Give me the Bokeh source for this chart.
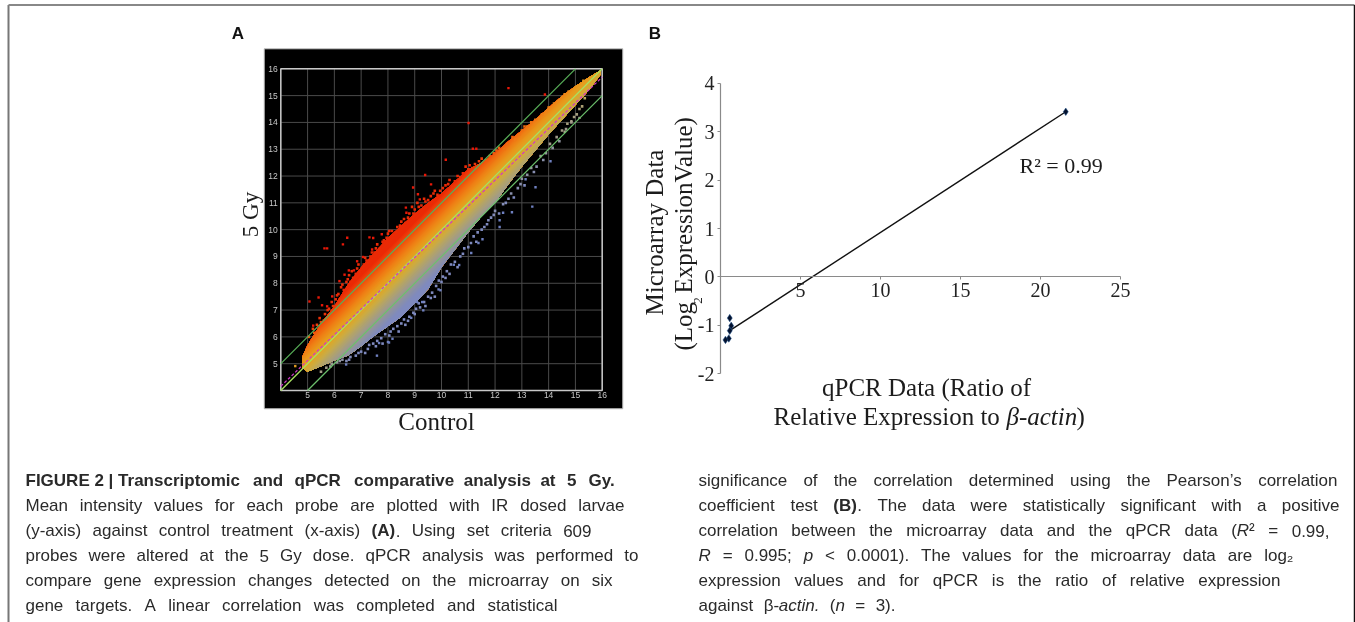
import re
import numpy as np
from bokeh.embed import file_html
from bokeh.resources import INLINE
from bokeh.plotting import figure
from bokeh.models import Range1d, LinearAxis, FixedTicker, ColumnDataSource
from bokeh.core.properties import value

# ---------- Panel A data ----------
a_ticks = [5, 6, 7, 8, 9, 10, 11, 12, 13, 14, 15, 16]
a_grid = [4, 5, 6, 7, 8, 9, 10, 11, 12, 13, 14, 15, 16]
band_x = [4.8, 5.0, 5.5, 6.0, 6.5, 7.0, 7.5, 8.0, 8.5, 9.0, 9.5, 10.0, 10.5, 11.0, 11.5, 12.0, 12.5, 13.0, 13.5, 14.0, 14.5, 15.0, 15.5, 15.95]
band_up = [5.25, 5.7, 6.5, 7.15, 7.95, 8.6, 9.15, 9.7, 10.15, 10.6, 11.0, 11.35, 11.8, 12.25, 12.5, 12.85, 13.3, 13.7, 14.1, 14.55, 14.98, 15.35, 15.68, 15.95]
band_lo = [4.85, 4.7, 4.9, 5.12, 5.3, 5.65, 6.05, 6.4, 6.75, 7.25, 7.78, 8.6, 9.25, 9.9, 10.5, 11.0, 11.7, 12.35, 12.95, 13.55, 14.1, 14.65, 15.2, 15.8]
delta_stops = [-1.45, -1.15, -0.85, -0.55, -0.28, 0.0, 0.25, 0.5, 0.75, 1.0, 1.3]
color_stops = ["#7f8abf", "#8e92a4", "#a09b8a", "#b3a46a", "#cbac44", "#dfa626", "#e89a1c", "#ee8416", "#f06a10", "#f04c0c", "#ea2a06"]
upper_dots_x = [5.05, 5.2, 5.35, 5.5, 5.65, 5.8, 5.9, 6.05, 6.15, 6.25, 6.35, 6.45, 6.55, 6.7, 6.85, 6.95, 7.1, 7.2, 7.35, 7.5, 7.6, 7.7, 7.85, 8.0, 8.15, 8.3, 8.45, 8.6, 8.75, 8.9, 9.0, 9.15, 9.35, 9.5, 9.7, 9.85, 10.05, 10.25, 10.4, 10.6, 10.8, 11.0, 11.05, 11.25, 11.4, 11.7, 11.95, 12.15, 12.35, 12.65, 12.75, 13.0, 13.1, 13.35, 13.5, 13.75, 14.0, 14.2, 14.5, 14.75, 15.05, 15.3,
                5.25, 5.45, 5.6, 5.75, 5.95, 6.1, 6.2, 6.3, 6.5, 6.6, 6.65, 6.8, 6.9, 7.05, 7.15, 7.25, 7.4, 7.55, 7.65, 7.8, 7.95, 8.05, 8.2, 8.35, 8.5, 8.65, 8.8, 8.95, 9.1, 9.25, 9.4, 9.6, 9.75, 9.95, 10.15, 10.3, 10.5, 10.7, 10.9, 11.15, 11.5, 11.8, 12.05, 12.45, 12.9, 13.2, 13.65, 13.9, 14.35, 14.6]
upper_dots_y = [6.0, 6.3, 6.45, 6.55, 6.85, 7.05, 7.3, 7.4, 7.6, 7.85, 7.75, 8.05, 8.3, 8.2, 8.55, 8.4, 8.7, 8.85, 9.0, 9.15, 9.45, 9.3, 9.6, 9.85, 9.95, 9.9, 10.15, 10.4, 10.45, 10.85, 10.75, 10.85, 11.15, 11.1, 11.35, 11.3, 11.55, 11.7, 11.6, 12.0, 12.1, 12.25, 12.4, 12.45, 12.55, 12.6, 12.85, 13.05, 13.0, 13.45, 13.35, 13.7, 13.85, 14.0, 14.1, 14.3, 14.55, 14.7, 14.95, 15.15, 15.35, 15.55,
                6.15, 6.7, 6.6, 7.0, 7.15, 7.55, 7.4, 7.95, 8.15, 8.05, 8.45, 8.35, 8.7, 8.55, 8.95, 8.75, 9.15, 9.3, 9.2, 9.55, 9.7, 9.95, 9.8, 10.1, 10.3, 10.25, 10.6, 10.6, 11.0, 10.9, 11.05, 11.25, 11.45, 11.45, 11.65, 11.85, 11.8, 11.95, 12.35, 12.3, 12.65, 12.75, 12.95, 13.2, 13.55, 13.85, 14.15, 14.4, 14.8, 15.05]
lower_dots_x = [5.9, 6.1, 6.3, 6.45, 6.6, 6.8, 7.0, 7.15, 7.3, 7.45, 7.6, 7.75, 7.9, 8.05, 8.2, 8.35, 8.5, 8.65, 8.8, 8.95, 9.05, 9.2, 9.35, 9.5, 9.65, 9.8, 9.9, 10.05, 10.2, 10.35, 10.5, 10.7, 10.85, 11.0, 11.2, 11.35, 11.5, 11.7, 11.85, 12.0, 12.15, 12.3, 12.5, 12.7, 12.85, 13.0, 13.2, 13.35, 13.55, 13.7, 13.9, 14.05, 14.3, 14.5, 14.7, 14.95, 15.15, 15.35,
                5.5, 5.7, 5.85, 6.2, 6.55, 6.9, 7.25, 7.55, 7.8, 8.1, 8.4, 8.6, 8.75, 9.0, 9.15, 9.4, 9.6, 9.75, 10.0, 10.15, 10.3, 10.6, 10.8, 11.1, 11.3, 11.6, 11.75, 11.95, 12.4, 12.6, 12.95, 13.1, 13.45, 13.8, 14.15, 14.4, 14.65, 14.85, 15.05, 15.25]
lower_dots_y = [5.0, 5.05, 5.15, 5.1, 5.25, 5.3, 5.45, 5.4, 5.7, 5.75, 5.85, 5.95, 6.1, 6.05, 6.3, 6.4, 6.5, 6.45, 6.75, 6.9, 7.05, 7.1, 7.3, 7.5, 7.65, 7.9, 8.1, 8.25, 8.45, 8.7, 8.8, 9.0, 9.3, 9.35, 9.75, 9.9, 10.0, 10.2, 10.45, 10.7, 10.6, 10.95, 11.15, 11.2, 11.55, 11.9, 12.05, 12.3, 12.35, 12.75, 12.85, 13.2, 13.45, 13.7, 13.95, 14.2, 14.5, 14.9,
                4.7, 4.85, 4.9, 5.1, 5.15, 5.4, 5.55, 5.65, 5.75, 6.2, 6.2, 6.65, 6.6, 6.85, 7.25, 7.15, 7.45, 7.5, 8.05, 8.2, 8.35, 8.6, 9.1, 9.5, 9.55, 10.1, 10.35, 10.55, 11.0, 11.35, 11.7, 11.65, 12.15, 12.6, 13.05, 13.3, 13.75, 14.0, 14.3, 14.6]
red_x = [12.50, 13.86, 11.01, 11.17, 11.30, 10.16, 9.39, 8.94, 9.61, 9.12, 9.19, 8.67, 8.69, 6.48, 7.31, 7.45, 5.63, 5.73, 6.32, 5.07, 5.41, 5.54, 5.73, 5.92, 6.19, 6.38, 6.54, 6.85, 6.73, 7.07, 7.41, 7.77, 5.21]
red_y = [15.28, 15.04, 13.98, 13.02, 13.02, 12.61, 12.04, 11.57, 11.69, 11.32, 11.13, 10.82, 10.63, 9.70, 9.71, 9.69, 9.30, 9.30, 9.45, 7.32, 7.47, 7.18, 7.14, 7.51, 8.08, 8.32, 8.48, 8.82, 8.48, 8.98, 9.26, 9.83, 6.42]
blue_x = [13.51, 13.39, 14.07, 12.63, 12.30, 13.14, 7.59, 6.44, 8.0, 8.17, 8.04, 7.67, 9.89, 9.96, 9.32, 9.09, 9.28, 8.87, 10.66, 10.46, 11.11, 11.38, 11.53, 12.17, 12.17]
blue_y = [11.58, 10.86, 12.55, 10.65, 10.63, 11.88, 5.30, 4.97, 5.81, 5.93, 5.79, 5.77, 7.77, 7.74, 6.99, 7.30, 7.30, 6.71, 8.68, 8.69, 9.13, 9.50, 9.64, 10.10, 10.35]
tan_x = [15.15, 4.54, 14.85, 14.6]
tan_y = [14.17, 4.91, 14.05, 13.65]
tan_c = ["#a9a08a", "#e09a20", "#a9a08a", "#a9a08a"]
unity_x = [4, 16]
unity_y = [4, 16]
upper_x = [4, 15]
upper_y = [5, 16]
lower_x = [5, 16]
lower_y = [4, 15]
fit_a_x = [4, 16]
fit_a_y = [4.16, 15.69]

# ---------- Panel B data ----------
qpcr = [21.58, 0.58, 0.67, 0.58, 0.52, 0.31]
micro = [3.41, -0.85, -1.01, -1.11, -1.27, -1.30]
trend_x = [0.62, 21.58]
trend_y = [-1.10, 3.41]
b_xticks = [5, 10, 15, 20, 25]
b_yticks = [-2, -1, 0, 1, 2, 3, 4]

# ---------- Caption ----------
left_lines = [
    (25, 616, "b", ["FIGURE 2 | Transcriptomic", "and", "qPCR", "comparative", "analysis", "at", "5", "Gy."]),
    (25, 624, "n", "Mean intensity values for each probe are plotted with IR dosed larvae".split()),
    (25, 591, "n", "(y-axis) against control treatment (x-axis) {b}(A){n}. Using set criteria 609".split()),
    (25, 638, "n", "probes were altered at the 5 Gy dose. qPCR analysis was performed to".split()),
    (25, 612, "n", "compare gene expression changes detected on the microarray on six".split()),
    (25, 557, "n", "gene targets. A linear correlation was completed and statistical".split()),
]
right_lines = [
    (698, 1337, "n", "significance of the correlation determined using the Pearson\u2019s correlation".split()),
    (698, 1339, "n", "coefficient test {b}(B){n}. The data were statistically significant with a positive".split()),
    (698, 1329, "n", "correlation between the microarray data and the qPCR data ({i}R{n}\u00b2 = 0.99,".split()),
    (698, 1292, "n", "{i}R{n} = 0.995; {i}p{n} < 0.0001). The values for the microarray data are log\u2082".split()),
    (698, 1280, "n", "expression values and for qPCR is the ratio of relative expression".split()),
    (698, 895, "n", "against \u03b2-{i}actin.{n} ({i}n{n} = 3).".split()),
]
line_ys = [479.5, 504.5, 530, 555, 580, 605]

# ---------- Page and scales ----------
W, H = 1355, 622
p = figure(width=W, height=H, output_backend="svg", toolbar_location=None,
           x_range=Range1d(0, W), y_range=Range1d(H, 0),
           x_axis_location=None, y_axis_location=None, min_border=0,
           outline_line_color=None, background_fill_color="white", border_fill_color="white",
           styles={"position": "fixed", "left": "0", "top": "0"})
p.grid.visible = False


def add_scale(name, px0, v0, px1, v1, dim):
    k = (v1 - v0) / (px1 - px0)
    if dim == "x":
        p.extra_x_ranges[name] = Range1d(v0 - px0 * k, v0 + (W - px0) * k)
    else:
        p.extra_y_ranges[name] = Range1d(v0 + (H - px0) * k, v0 - px0 * k)


add_scale("ax", 280.3, 4, 601.7, 16, "x")
add_scale("ay", 390.0, 4, 68.3, 16, "y")
add_scale("bx", 720.0, 0, 1120.0, 25, "x")
add_scale("by", 373.3, -2, 82.7, 4, "y")
A = dict(x_range_name="ax", y_range_name="ay")
B = dict(x_range_name="bx", y_range_name="by")

# page frame
p.line([8, 8], [4.5, 622], line_color="#777777", line_width=2)
p.line([8, 1354], [4.5, 4.5], line_color="#888888", line_width=2)
p.line([1354, 1354], [4.5, 622], line_color="#111111", line_width=1.5)

# ---------- Panel A ----------
p.quad(left=263.7, right=622.3, top=48.3, bottom=408.3, fill_color="black",
       line_color="#c4c4c4", line_width=1)
g_lo = [4] * len(a_grid)
g_hi = [16] * len(a_grid)
p.segment(a_grid, g_lo, a_grid, g_hi, line_color="#4a4a4a", line_width=1, **A)
p.segment(g_lo, a_grid, g_hi, a_grid, line_color="#4a4a4a", line_width=1, **A)
p.quad(left=4, right=16, bottom=4, top=16, fill_color=None, line_color="#c8c8c8", line_width=1.5, **A)

rgb_stops = np.array([[int(c[i:i + 2], 16) for i in (1, 3, 5)] for c in color_stops], dtype=float)


def delta_color(d):
    return "#%02x%02x%02x" % tuple(int(round(np.interp(d, delta_stops, rgb_stops[:, k]))) for k in range(3))


# The band is painted from its top layer down, each layer covering the one before, so no seams show.
grid_x = np.linspace(band_x[0], band_x[-1], 300)
env_up = np.interp(grid_x, band_x, band_up)
env_lo = np.interp(grid_x, band_x, band_lo)
for d in np.arange(1.9, -1.5, -0.05):
    top = np.minimum(env_up, grid_x + d)
    keep = top > env_lo
    if keep.sum() < 2:
        continue
    p.varea(x=grid_x[keep], y1=env_lo[keep], y2=top[keep], fill_color=delta_color(d), **A)


def dot_colors(xs, ys):
    return [delta_color(y - x) for x, y in zip(xs, ys)]


p.scatter(upper_dots_x, upper_dots_y, marker="square", size=2.6, line_color=None,
          fill_color=dot_colors(upper_dots_x, upper_dots_y), **A)
p.scatter(lower_dots_x, lower_dots_y, marker="square", size=2.6, line_color=None,
          fill_color=dot_colors(lower_dots_x, lower_dots_y), **A)
p.scatter(red_x, red_y, marker="square", size=2.4, line_color=None, fill_color="#e81808", **A)
p.scatter(blue_x, blue_y, marker="square", size=2.4, line_color=None, fill_color="#6f80c0", **A)
p.scatter(tan_x, tan_y, marker="square", size=2.4, line_color=None, fill_color=tan_c, **A)

p.line(upper_x, upper_y, line_color="#58b058", line_width=1.2, **A)
p.line(lower_x, lower_y, line_color="#6cc06c", line_width=1.2, **A)
p.line(unity_x, unity_y, line_color="#a8e060", line_width=1.3, **A)
p.line(fit_a_x, fit_a_y, line_color="#d038c8", line_width=1.2, line_dash="3 2", **A)

ax_x = LinearAxis(fixed_location=4, ticker=FixedTicker(ticks=a_ticks), **A)
ax_y = LinearAxis(fixed_location=4, ticker=FixedTicker(ticks=a_ticks), **A)
for ax in (ax_x, ax_y):
    ax.axis_line_color = None
    ax.major_tick_line_color = None
    ax.major_tick_in = 0
    ax.major_tick_out = 0
    ax.minor_tick_line_color = None
    ax.major_label_text_color = "#c8c8c8"
    ax.major_label_text_font = "Liberation Sans"
    ax.major_label_text_font_size = "8.5px"
ax_x.major_label_standoff = 1
ax_y.major_label_standoff = 3
p.add_layout(ax_x, "below")
p.add_layout(ax_y, "left")

# ---------- Panel B ----------
p.line(trend_x, trend_y, line_color="#111111", line_width=1.4, **B)
p.scatter(qpcr, micro, marker="diamond", size=7.5, fill_color="#04122e", line_color="#1a4f8a", line_width=0.5, **B)
bx_axis = LinearAxis(fixed_location=0, ticker=FixedTicker(ticks=b_xticks), bounds=(0, 25), **B)
by_axis = LinearAxis(fixed_location=0, ticker=FixedTicker(ticks=b_yticks), bounds=(-2, 4), **B)
for ax in (bx_axis, by_axis):
    ax.axis_line_color = "#8a8a8a"
    ax.axis_line_width = 1.2
    ax.major_tick_line_color = "#8a8a8a"
    ax.major_tick_in = 0
    ax.major_tick_out = 3
    ax.minor_tick_line_color = None
    ax.major_label_text_color = "#222222"
    ax.major_label_text_font = "Liberation Serif"
    ax.major_label_text_font_size = "20px"
bx_axis.major_label_standoff = 3
by_axis.major_label_standoff = 3
by_axis.major_label_overrides = {-1: "-1", -2: "-2"}
p.add_layout(bx_axis, "below")
p.add_layout(by_axis, "left")


def put(x, y, s, size, font="Liberation Serif", style="normal", align="center", angle=0, color="#1c1c1c"):
    p.text([x], [y], text=[s], text_font=value(font), text_font_size=size, text_font_style=style,
           text_align=align, text_baseline="middle", angle=angle, text_color=color)


ROT = np.pi / 2
put(237.5, 33, "A", "17px", "Liberation Sans", "bold", color="#111111")
put(654.5, 33, "B", "17px", "Liberation Sans", "bold", color="#111111")
put(436, 420.7, "Control", "25px")
put(250, 214, "5 Gy", "23px", angle=ROT)
put(654, 232, "Microarray Data", "25px", angle=ROT)
put(683, 350, "(Log", "25px", align="left", angle=ROT)
put(697, 300, "2", "13px", angle=ROT)
put(683, 293, "ExpressionValue)", "25px", align="left", angle=ROT)
put(926, 386.5, "qPCR Data (Ratio of", "25px")
put(773, 416, "Relative Expression to", "25px", align="left")
put(1006, 416, "\u03b2-actin", "25px", style="italic", align="left")
put(1076, 416, ")", "25px", align="left")
put(1019, 165, "R\u00b2 = 0.99", "22px", align="left")

# ---------- Caption ----------
HELV = dict(zip("abcdefghijklmnopqrstuvwxyz",
                [556, 556, 500, 556, 556, 278, 556, 556, 222, 222, 500, 222, 833, 556, 556, 556, 556, 333, 500, 278, 556, 500, 722, 500, 500, 500]))
HELV.update(zip("ABCDEFGHIJKLMNOPQRSTUVWXYZ",
                [667, 667, 722, 722, 667, 611, 778, 722, 278, 500, 667, 556, 833, 722, 778, 667, 778, 722, 667, 611, 722, 667, 944, 667, 667, 611]))
HELV.update({" ": 278, ".": 278, ",": 278, ";": 278, "(": 333, ")": 333, "-": 333, "|": 260, "=": 584, "<": 584,
             "\u2019": 222, "\u00b2": 333, "\u2082": 333, "\u03b2": 560})
FS = 17.0


def width(s, style):
    w = sum(HELV.get(ch, 556) for ch in s) * FS / 1000
    return w * (1.06 if style == "b" else 1.0)


runs = {"n": dict(x=[], y=[], t=[]), "b": dict(x=[], y=[], t=[]), "i": dict(x=[], y=[], t=[])}


def split_runs(word, style):
    out = []
    for k, part in enumerate(re.split(r"\{(\w)\}", word)):
        if k % 2:
            style = part
        elif part:
            out.append((part, style))
    return out, style


for lines in (left_lines, right_lines):
    for (x0, x1, style, words), yy in zip(lines, line_ys):
        parsed = []
        st = style
        for w in words:
            rs, st = split_runs(w, st)
            parsed.append(rs)
        total = sum(width(t, s) for rs in parsed for t, s in rs)
        gap = (x1 - x0 - total) / (len(parsed) - 1)
        cur = x0
        for rs in parsed:
            for t, s in rs:
                runs[s]["x"].append(cur)
                runs[s]["y"].append(yy)
                runs[s]["t"].append(t)
                cur += width(t, s)
            cur += gap

for key, fstyle in (("n", "normal"), ("b", "bold"), ("i", "italic")):
    src = ColumnDataSource(runs[key])
    p.text("x", "y", text="t", source=src, text_font=value("Liberation Sans"), text_font_size=f"{FS}px",
           text_font_style=fstyle, text_align="left", text_baseline="middle", text_color="#2a2a2a")

open("out.html", "w").write(file_html(p, INLINE))
